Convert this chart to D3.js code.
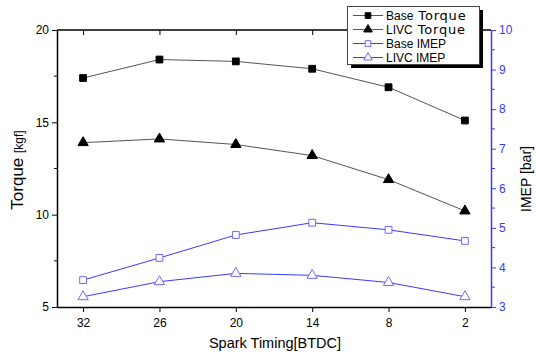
<!DOCTYPE html>
<html>
<head>
<meta charset="utf-8">
<script src="https://cdn.jsdelivr.net/npm/d3@7"></script>
<style>
  body { margin: 0; background: #fff; }
  svg { font-family: Arial, "Liberation Sans", sans-serif; }
</style>
</head>
<body>
<svg id="chart" width="536" height="354"></svg>
<script>
// spark timing (BTDC), left to right
const sparkTiming = [32, 26, 20, 14, 8, 2];
const baseTorque = [17.4, 18.4, 18.3, 17.9, 16.9, 15.1];
const livcTorque = [13.9, 14.1, 13.8, 13.2, 11.9, 10.2];
const baseImep = [3.68, 4.24, 4.82, 5.13, 4.95, 4.67];
const livcImep = [3.26, 3.64, 3.85, 3.80, 3.62, 3.26];
const torqueTicks = [5, 10, 15, 20];
const imepTicks = [3, 4, 5, 6, 7, 8, 9, 10];

const svg = d3.select('#chart');
const plotL = 57, plotR = 491, plotT = 30, plotB = 307;
const blue = '#3a3aff';

const x = d3.scaleLinear().domain([34.05, -0.05]).range([plotL, plotR]);
const yL = d3.scaleLinear().domain([5, 20]).range([plotB, plotT]);
const yR = d3.scaleLinear().domain([3, 10]).range([plotB, plotT]);

// top frame line
svg.append('line').attr('x1', plotL).attr('x2', plotR).attr('y1', plotT).attr('y2', plotT)
  .attr('stroke', '#000').attr('stroke-width', 1.5);

// bottom axis
const xAxis = svg.append('g').attr('transform', `translate(0,${plotB})`)
  .call(d3.axisBottom(x).tickValues(sparkTiming).tickSize(5).tickSizeOuter(0).tickPadding(6));
xAxis.select('.domain').attr('stroke-width', 1.5);
// top ticks (no labels)
const xTop = svg.append('g').attr('transform', `translate(0,${plotT})`)
  .call(d3.axisBottom(x).tickValues(sparkTiming).tickSize(5).tickSizeOuter(0).tickFormat(''));
xTop.select('.domain').remove();

// left axis
const yAxisL = svg.append('g').attr('transform', `translate(${plotL},0)`)
  .call(d3.axisLeft(yL).tickValues(torqueTicks).tickSize(5).tickSizeOuter(0).tickPadding(3));
yAxisL.select('.domain').attr('stroke-width', 1.5);
yAxisL.selectAll('.minor').data([7.5, 12.5, 17.5]).enter().append('line')
  .attr('class', 'minor').attr('x1', 0).attr('x2', -3)
  .attr('y1', (d) => yL(d)).attr('y2', (d) => yL(d)).attr('stroke', '#000');

// right axis
const yAxisR = svg.append('g').attr('transform', `translate(${plotR},0)`)
  .call(d3.axisRight(yR).tickValues(imepTicks).tickFormat(d3.format('d'))
    .tickSize(5).tickSizeOuter(0).tickPadding(3));
yAxisR.select('.domain').attr('stroke', blue).attr('stroke-width', 1.5);
yAxisR.selectAll('.tick line').attr('stroke', blue);
yAxisR.selectAll('.tick text').attr('fill', blue);
yAxisR.selectAll('.minor').data(d3.range(3.5, 10, 1)).enter().append('line')
  .attr('class', 'minor').attr('x1', 0).attr('x2', 4)
  .attr('y1', (d) => yR(d)).attr('y2', (d) => yR(d)).attr('stroke', blue);

svg.selectAll('.tick text').attr('font-size', 12).attr('font-family', 'Arial, "Liberation Sans", sans-serif');

// axis titles
svg.append('text').attr('x', 275).attr('y', 348).attr('text-anchor', 'middle')
  .attr('font-size', 14.5).text('Spark Timing[BTDC]');

const lt = svg.append('text').attr('transform', 'translate(23,170) rotate(-90)')
  .attr('text-anchor', 'middle');
lt.append('tspan').attr('font-size', 17).text('Torque ');
lt.append('tspan').attr('font-size', 12).text('[kgf]');

svg.append('text').attr('transform', 'translate(531,179) rotate(-90)')
  .attr('text-anchor', 'middle').attr('font-size', 14).text('IMEP [bar]');

// series
const series = [
  { name: 'Base', big: 'Torque', values: baseTorque, y: yL, color: '#555', mark: d3.symbolSquare, fill: '#000', mc: '#000' },
  { name: 'LIVC', big: 'Torque', values: livcTorque, y: yL, color: '#555', mark: d3.symbolTriangle, fill: '#000', mc: '#000' },
  { name: 'Base IMEP', big: '', values: baseImep, y: yR, color: blue, mark: d3.symbolSquare, fill: '#fff', mc: '#6a6aff' },
  { name: 'LIVC IMEP', big: '', values: livcImep, y: yR, color: blue, mark: d3.symbolTriangle, fill: '#fff', mc: '#6a6aff' },
];

series.forEach((s) => {
  const line = d3.line().x((d, i) => x(sparkTiming[i])).y((d) => s.y(d));
  svg.append('path').datum(s.values).attr('d', line)
    .attr('fill', 'none').attr('stroke', s.color).attr('stroke-width', 1);
  svg.selectAll(null).data(s.values).enter().append('path')
    .attr('d', d3.symbol().type(s.mark).size(s.mark === d3.symbolSquare ? 46 : 46))
    .attr('transform', (d, i) => `translate(${x(sparkTiming[i])},${s.y(d)})`)
    .attr('fill', s.fill).attr('stroke', s.mc).attr('stroke-width', 1);
});

// legend
const lg = svg.append('g');
lg.append('rect').attr('x', 351).attr('y', 10).attr('width', 132).attr('height', 58).attr('fill', '#000');
lg.append('rect').attr('x', 347.5).attr('y', 6.5).attr('width', 132).attr('height', 58)
  .attr('fill', '#fff').attr('stroke', '#444').attr('stroke-width', 1);
series.forEach((s, i) => {
  const yy = 15.5 + i * 14;
  lg.append('line').attr('x1', 353).attr('x2', 383).attr('y1', yy).attr('y2', yy)
    .attr('stroke', s.color).attr('stroke-width', 1);
  lg.append('path').attr('d', d3.symbol().type(s.mark).size(32))
    .attr('transform', `translate(368,${yy})`)
    .attr('fill', s.fill).attr('stroke', s.mc);
  const t = lg.append('text').attr('x', 386).attr('y', yy + 4.5).attr('font-size', 12);
  t.append('tspan').text(s.name);
  if (s.big) t.append('tspan').attr('dx', 5).attr('font-size', 13)
    .attr('letter-spacing', 0.8)
    .attr('font-family', '"DejaVu Sans", sans-serif').text(s.big);
});
</script>
</body>
</html>
